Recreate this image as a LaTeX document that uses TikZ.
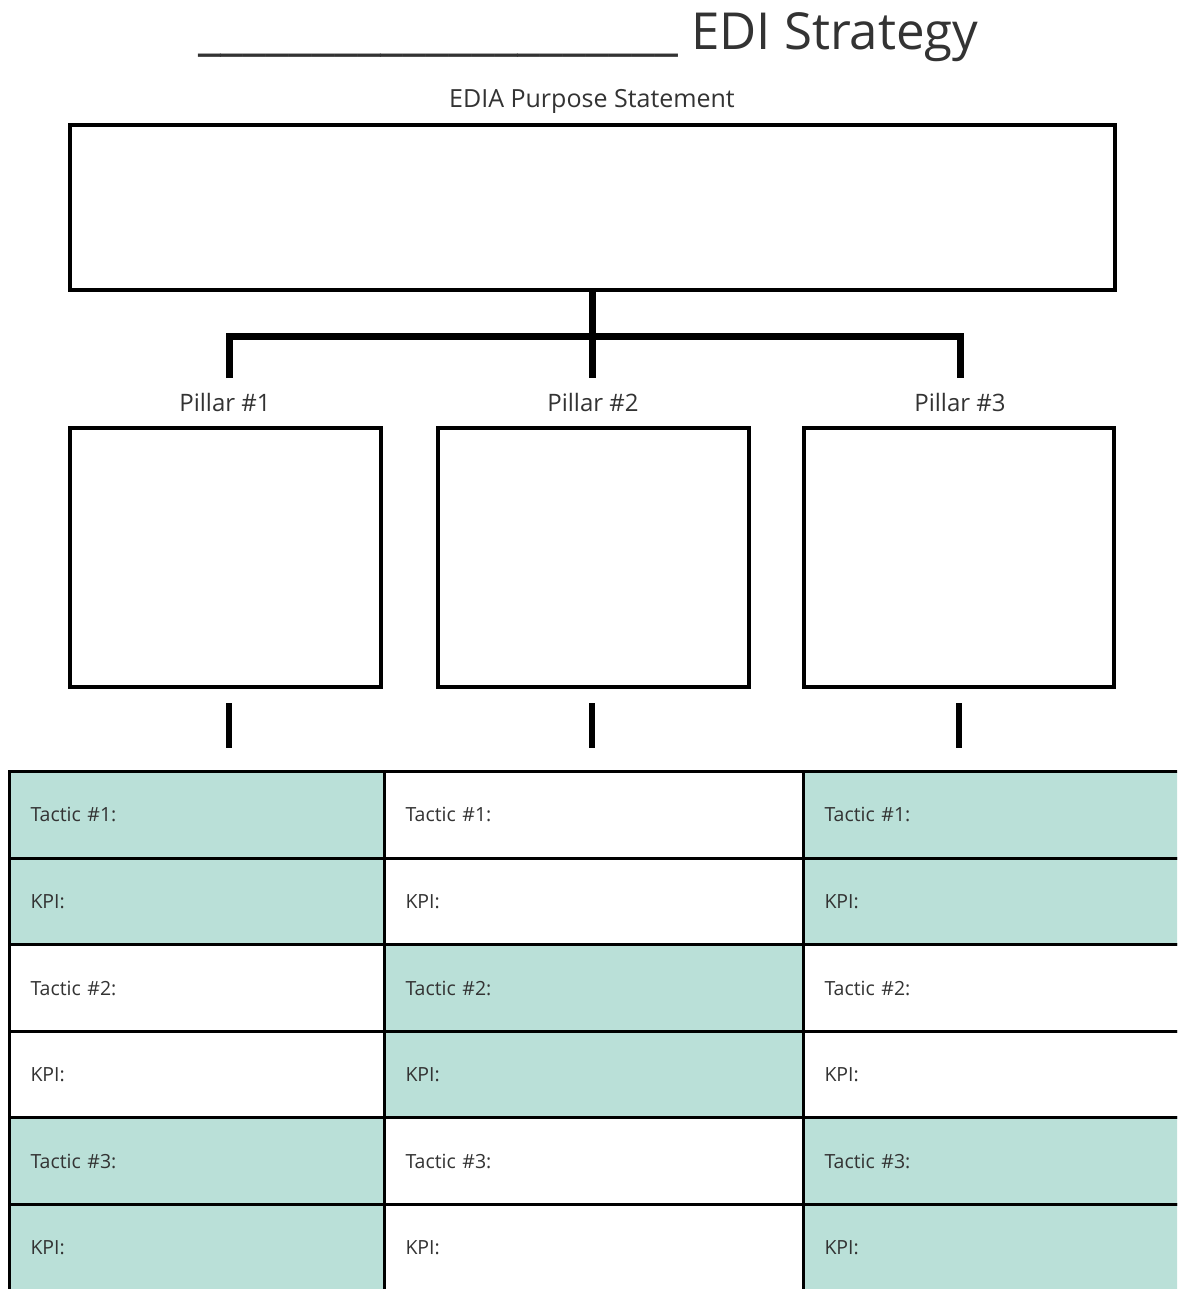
\documentclass[tikz,border=0pt]{standalone}
\usepackage{fontspec}
\setmainfont{Open Sans}
\definecolor{cellfill}{HTML}{BAE0D8}
\definecolor{ink}{HTML}{333333}
\begin{document}
\begin{tikzpicture}[x=1pt,y=-1pt,
  box/.style={draw=black,line width=4pt,inner sep=0pt},
  link/.style={draw=black,line width=7pt},
  stub/.style={draw=black,line width=6pt},
  lbl/.style={text=ink,inner sep=0pt},
  cell/.style={draw=black,line width=3pt,anchor=north west,minimum height=86.6pt,
    inner xsep=21pt,inner ysep=0pt,align=left,text=ink,font=\fontsize{19.5}{22}\selectfont},
  c1/.style={cell,text width=333pt},
  c2/.style={cell,text width=377pt},
  c3/.style={cell,text width=342pt},
  on/.style={fill=cellfill},
  off/.style={fill=white}]
\useasboundingbox (0,0) rectangle (1177,1289);
\clip (0,0) rectangle (1177,1289);
\fill[white] (0,0) rectangle (1177,1289);

% title
\node[lbl,anchor=base east,font=\fontsize{51}{56}\selectfont] (title) at (979,50)
  {\_\_\_\_\_\_\_\_\_\_\_\_\_\_\_\_\_\_\_\_\_ EDI Strategy};
\node[lbl,font=\fontsize{25}{28}\selectfont] (purposelbl) at (592,101) {EDIA Purpose Statement};

% purpose box
\node[box,minimum width=1045pt,minimum height=165pt] (purpose) at (592.5,207.5) {};

% pillar labels and boxes
\node[lbl,font=\fontsize{24}{28}\selectfont] (pl1) at (225,402) {Pillar \#1};
\node[lbl,font=\fontsize{24}{28}\selectfont] (pl2) at (593,402) {Pillar \#2};
\node[lbl,font=\fontsize{24}{28}\selectfont] (pl3) at (960,402) {Pillar \#3};
\node[box,minimum width=311pt,minimum height=259pt] (p1) at (225.5,557.5) {};
\node[box,minimum width=311pt,minimum height=259pt] (p2) at (593.5,557.5) {};
\node[box,minimum width=310pt,minimum height=259pt] (p3) at (959,557.5) {};

% tree connectors
\coordinate (j1) at (229,336);
\coordinate (j3) at (960,336);
\coordinate (e1) at (229,378);
\coordinate (e2) at (592,378);
\coordinate (e3) at (960,378);
\draw[link] (purpose.south -| e2) -- (e2);
\draw[link] (e1) -- (j1) -- (j3) -- (e3);

% stubs below pillars
\coordinate (s1a) at (229,703); \coordinate (s1b) at (229,748);
\coordinate (s2a) at (592,703); \coordinate (s2b) at (592,748);
\coordinate (s3a) at (959,703); \coordinate (s3b) at (959,748);
\draw[stub] (s1a) -- (s1b);
\draw[stub] (s2a) -- (s2b);
\draw[stub] (s3a) -- (s3b);

% table
\begin{scope}[every node/.append style={yshift=2pt}]
\node[c1,on]  (a1) at (8,772)      {Tactic \#1:};
\node[c1,on]  (a2) at (8,858.6)    {KPI:};
\node[c1,off] (a3) at (8,945.2)    {Tactic \#2:};
\node[c1,off] (a4) at (8,1031.8)   {KPI:};
\node[c1,on]  (a5) at (8,1118.4)   {Tactic \#3:};
\node[c1,on]  (a6) at (8,1205)     {KPI:};

\node[c2,off] (b1) at (383,772)    {Tactic \#1:};
\node[c2,off] (b2) at (383,858.6)  {KPI:};
\node[c2,on]  (b3) at (383,945.2)  {Tactic \#2:};
\node[c2,on]  (b4) at (383,1031.8) {KPI:};
\node[c2,off] (b5) at (383,1118.4) {Tactic \#3:};
\node[c2,off] (b6) at (383,1205)   {KPI:};

\node[c3,on]  (d1) at (802,772)    {Tactic \#1:};
\node[c3,on]  (d2) at (802,858.6)  {KPI:};
\node[c3,off] (d3) at (802,945.2)  {Tactic \#2:};
\node[c3,off] (d4) at (802,1031.8) {KPI:};
\node[c3,on]  (d5) at (802,1118.4) {Tactic \#3:};
\node[c3,on]  (d6) at (802,1205)   {KPI:};
\end{scope}
\end{tikzpicture}
\end{document}
